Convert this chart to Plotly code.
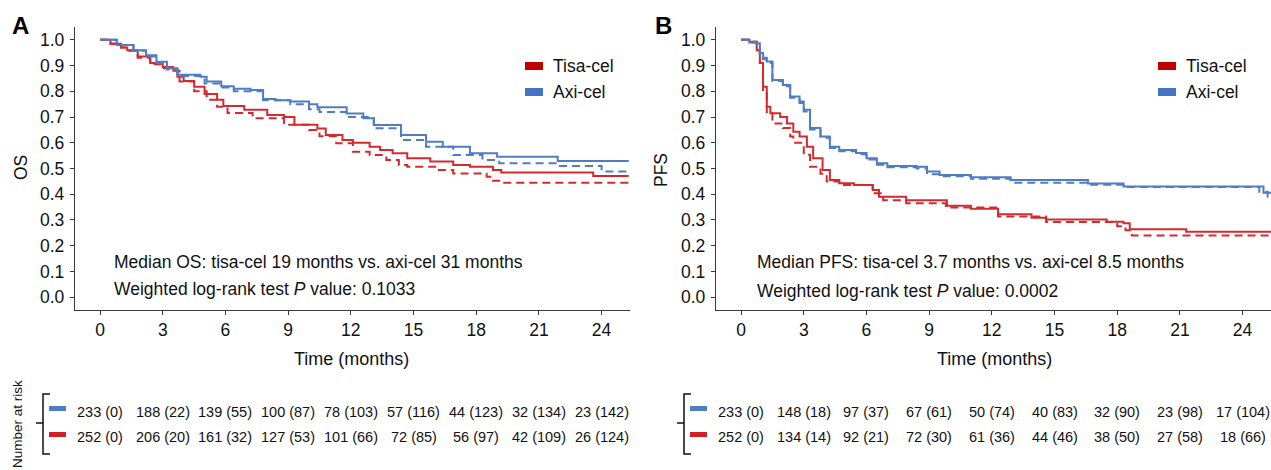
import plotly.graph_objects as go

W, H = 1271, 470
FONT = "Liberation Sans, Arial, Helvetica, sans-serif"
RED = "#D42A2F"
BLUE = "#4F7DC2"
RED_LEG = "#C00000"
BLUE_LEG = "#4472C4"

# ---------------- Panel A (OS) ----------------
os_tisa_t = [0, 0.5, 1.0, 1.3, 1.8, 2.4, 3.0, 3.5, 3.7, 4.0, 4.5, 5.0, 5.6, 5.9, 6.9, 8.0, 8.8, 9.3,
             10.4, 10.8, 11.6, 12.1, 12.9, 13.4, 14.0, 14.7, 15.8, 16.9, 17.7, 18.8, 19.2, 23.6, 25.3]
os_tisa_s = [1.0, 0.985, 0.97, 0.96, 0.935, 0.91, 0.895, 0.885, 0.857, 0.84, 0.818, 0.79, 0.767, 0.743,
             0.728, 0.708, 0.70, 0.67, 0.655, 0.63, 0.611, 0.60, 0.585, 0.572, 0.559, 0.54, 0.527, 0.514,
             0.507, 0.494, 0.484, 0.471, 0.471]
os_tisa_dash_t = [0, 0.5, 1.0, 1.3, 1.8, 2.4, 3.0, 3.5, 3.8, 4.5, 5.1, 5.6, 6.1, 7.3, 8.8, 10.0, 10.5,
                  11.3, 12.1, 12.9, 13.7, 14.3, 14.7, 16.1, 16.9, 18.5, 18.8, 19.1, 25.3]
os_tisa_dash_s = [1.0, 0.985, 0.97, 0.958, 0.93, 0.905, 0.89, 0.88, 0.838, 0.80, 0.767, 0.74, 0.716, 0.695,
                  0.67, 0.65, 0.625, 0.598, 0.565, 0.552, 0.533, 0.514, 0.507, 0.494, 0.481, 0.468, 0.452,
                  0.445, 0.445]
os_axi_t = [0, 0.8, 1.6, 2.2, 2.7, 3.2, 3.7, 4.8, 5.1, 5.8, 6.4, 7.2, 7.8, 8.4, 9.1, 10.0, 10.4, 11.8,
            12.6, 13.1, 14.4, 15.6, 16.4, 17.7, 19.0, 21.9, 25.3]
os_axi_s = [1.0, 0.98, 0.96, 0.94, 0.915, 0.89, 0.864, 0.857, 0.838, 0.82, 0.81, 0.805, 0.77, 0.765, 0.76,
            0.75, 0.738, 0.714, 0.695, 0.669, 0.63, 0.604, 0.585, 0.559, 0.546, 0.529, 0.529]
os_axi_dash_t = [0, 0.8, 1.6, 2.2, 2.7, 3.2, 3.7, 5.0, 5.8, 6.4, 7.8, 9.1, 10.0, 10.5, 11.8, 13.1, 14.4,
                 15.6, 16.9, 18.3, 19.1, 21.9, 24.0, 25.3]
os_axi_dash_s = [1.0, 0.98, 0.958, 0.935, 0.91, 0.885, 0.86, 0.83, 0.815, 0.80, 0.765, 0.75, 0.73, 0.72,
                 0.70, 0.656, 0.611, 0.585, 0.552, 0.533, 0.52, 0.51, 0.488, 0.488]

# ---------------- Panel B (PFS) ----------------
pfs_axi_t = [0, 0.4, 0.75, 0.9, 1.05, 1.23, 1.5, 2.0, 2.35, 2.8, 3.0, 3.3, 3.8, 4.25, 4.7, 5.5, 6.0, 6.5,
             7.0, 8.4, 8.9, 9.5, 11.0, 12.9, 16.6, 18.3, 25.0, 25.4]
pfs_axi_s = [1.0, 0.99, 0.987, 0.949, 0.93, 0.916, 0.844, 0.825, 0.78, 0.76, 0.728, 0.657, 0.624, 0.585,
             0.572, 0.56, 0.54, 0.52, 0.51, 0.507, 0.488, 0.475, 0.466, 0.455, 0.442, 0.43, 0.406, 0.406]
pfs_axi_dash_t = [0, 0.4, 0.75, 0.9, 1.05, 1.23, 1.5, 2.0, 2.35, 2.8, 3.0, 3.3, 3.8, 4.25, 4.7, 5.5, 6.0,
                  6.5, 7.0, 8.4, 8.9, 9.5, 11.0, 12.9, 16.6, 18.3, 24.8, 25.2, 25.4]
pfs_axi_dash_s = [1.0, 0.99, 0.985, 0.945, 0.925, 0.91, 0.84, 0.82, 0.775, 0.755, 0.722, 0.652, 0.62, 0.58,
                  0.567, 0.555, 0.535, 0.515, 0.505, 0.50, 0.478, 0.47, 0.46, 0.445, 0.437, 0.428, 0.41,
                  0.39, 0.39]
pfs_tisa_t = [0, 0.4, 0.75, 0.9, 1.05, 1.23, 1.4, 1.87, 2.2, 2.5, 2.8, 3.15, 3.45, 3.9, 4.25, 4.7, 5.4, 6.3,
              6.6, 7.9, 9.85, 11.0, 12.3, 13.9, 14.6, 17.5, 18.3, 18.6, 21.3, 25.4]
pfs_tisa_s = [1.0, 0.993, 0.96, 0.91, 0.818, 0.74, 0.715, 0.70, 0.675, 0.643, 0.624, 0.585, 0.54, 0.494,
              0.455, 0.443, 0.436, 0.416, 0.39, 0.377, 0.355, 0.344, 0.322, 0.309, 0.302, 0.293, 0.287,
              0.264, 0.254, 0.254]
pfs_tisa_dash_t = [0, 0.4, 0.75, 0.9, 1.05, 1.23, 1.5, 2.0, 2.35, 2.5, 3.0, 3.3, 3.8, 4.1, 4.7, 6.3, 6.8,
                   7.9, 9.8, 12.3, 14.6, 18.0, 18.4, 18.7, 25.4]
pfs_tisa_dash_s = [1.0, 0.993, 0.96, 0.91, 0.80, 0.715, 0.675, 0.657, 0.624, 0.60, 0.553, 0.507, 0.48,
                   0.449, 0.436, 0.404, 0.377, 0.365, 0.348, 0.313, 0.292, 0.276, 0.26, 0.24, 0.24]

# ---------------- Risk tables ----------------
risk_times = [0, 3, 6, 9, 12, 15, 18, 21, 24]
os_risk_axi = ["233 (0)", "188 (22)", "139 (55)", "100 (87)", "78 (103)", "57 (116)", "44 (123)", "32 (134)", "23 (142)"]
os_risk_tisa = ["252 (0)", "206 (20)", "161 (32)", "127 (53)", "101 (66)", "72 (85)", "56 (97)", "42 (109)", "26 (124)"]
pfs_risk_axi = ["233 (0)", "148 (18)", "97 (37)", "67 (61)", "50 (74)", "40 (83)", "32 (90)", "23 (98)", "17 (104)"]
pfs_risk_tisa = ["252 (0)", "134 (14)", "92 (21)", "72 (30)", "61 (36)", "44 (46)", "38 (50)", "27 (58)", "18 (66)"]

x_ticks = [0, 3, 6, 9, 12, 15, 18, 21, 24]
y_ticks = [0.0, 0.1, 0.2, 0.3, 0.4, 0.5, 0.6, 0.7, 0.8, 0.9, 1.0]


def px_x(p):
    return p / W


def px_y(p):
    return 1 - p / H


fig = go.Figure()

curves = [
    ("x", "y", os_tisa_t, os_tisa_s, RED, "solid"),
    ("x", "y", os_tisa_dash_t, os_tisa_dash_s, RED, "dash"),
    ("x", "y", os_axi_t, os_axi_s, BLUE, "solid"),
    ("x", "y", os_axi_dash_t, os_axi_dash_s, BLUE, "dash"),
    ("x2", "y2", pfs_tisa_t, pfs_tisa_s, RED, "solid"),
    ("x2", "y2", pfs_tisa_dash_t, pfs_tisa_dash_s, RED, "dash"),
    ("x2", "y2", pfs_axi_t, pfs_axi_s, BLUE, "solid"),
    ("x2", "y2", pfs_axi_dash_t, pfs_axi_dash_s, BLUE, "dash"),
]
for xa, ya, t, s, c, d in curves:
    fig.add_trace(go.Scatter(
        x=t, y=s, xaxis=xa, yaxis=ya, mode="lines",
        line=dict(color=c, width=2, shape="hv", dash="8px,5px" if d == "dash" else "solid"),
        showlegend=False, hoverinfo="skip"))

ydom = [px_y(310), px_y(27)]
axis_common = dict(showgrid=False, zeroline=False, showline=True, linecolor="#3a3a3a", linewidth=1.3,
                   ticks="outside", ticklen=4, tickcolor="#3a3a3a", tickwidth=1,
                   tickfont=dict(family=FONT, size=17.5, color="#111"))
fig.update_layout(
    width=W, height=H, margin=dict(l=0, r=0, t=0, b=0),
    paper_bgcolor="white", plot_bgcolor="white", showlegend=False,
    xaxis=dict(domain=[px_x(75), px_x(630)], range=[-1.2, 25.36], tickvals=x_ticks,
               anchor="y", ticklabelstandoff=0, **axis_common),
    yaxis=dict(domain=ydom, range=[-0.05, 1.05], tickvals=y_ticks, tickformat=".1f",
               anchor="x", ticklabelstandoff=2, **axis_common),
    xaxis2=dict(domain=[px_x(716), 1.0], range=[-1.2, 25.36], tickvals=x_ticks,
                anchor="y2", ticklabelstandoff=0, **axis_common),
    yaxis2=dict(domain=ydom, range=[-0.05, 1.05], tickvals=y_ticks, tickformat=".1f",
                anchor="x2", ticklabelstandoff=2, **axis_common),
)

ann = []
shapes = []


def text(x, y, s, size=17.5, xanchor="center", yanchor="middle", xref="paper", yref="paper",
         angle=0, bold=False, color="#111"):
    ann.append(dict(x=x, y=y, xref=xref, yref=yref, text=("<b>%s</b>" % s) if bold else s,
                    showarrow=False, xanchor=xanchor, yanchor=yanchor, textangle=angle,
                    font=dict(family=FONT, size=size, color=color)))


# panel letters
text(px_x(20), px_y(25), "A", size=24, bold=True, color="#000")
text(px_x(663), px_y(25), "B", size=24, bold=True, color="#000")
# y titles
text(px_x(21), px_y(168), "OS", size=17.5, angle=-90)
text(px_x(661), px_y(170), "PFS", size=17.5, angle=-90)
# x titles
text(px_x(351), px_y(359), "Time (months)", size=18)
text(px_x(994), px_y(359), "Time (months)", size=18)
# stats text
text(px_x(112), px_y(262), "Median OS: tisa-cel 19 months vs. axi-cel 31 months", xanchor="left")
text(px_x(112), px_y(289), "Weighted log-rank test <i>P</i> value: 0.1033", xanchor="left")
text(px_x(755), px_y(262), "Median PFS: tisa-cel 3.7 months vs. axi-cel 8.5 months", xanchor="left")
text(px_x(755), px_y(291), "Weighted log-rank test <i>P</i> value: 0.0002", xanchor="left")

# legends
for x0, tx in [(525, 551), (1158, 1184)]:
    shapes.append(dict(type="rect", xref="paper", yref="paper", x0=px_x(x0), x1=px_x(x0 + 18),
                       y0=px_y(70), y1=px_y(62), fillcolor=RED_LEG, line=dict(width=0)))
    shapes.append(dict(type="rect", xref="paper", yref="paper", x0=px_x(x0), x1=px_x(x0 + 18),
                       y0=px_y(96), y1=px_y(88), fillcolor=BLUE_LEG, line=dict(width=0)))
    text(px_x(tx), px_y(66), "Tisa-cel", xanchor="left")
    text(px_x(tx), px_y(92), "Axi-cel", xanchor="left")

# risk tables
text(px_x(17), px_y(424), "Number at risk", size=13.5, angle=-90)
for xref, axi, tisa, bx in [("x", os_risk_axi, os_risk_tisa, 43), ("x2", pfs_risk_axi, pfs_risk_tisa, 684)]:
    for t, a, b in zip(risk_times, axi, tisa):
        text(t, px_y(412), a, size=14.5, xref=xref)
        text(t, px_y(437), b, size=14.5, xref=xref)
    # bracket
    path = "M %f %f L %f %f L %f %f L %f %f" % (px_x(bx + 7), px_y(394), px_x(bx), px_y(394),
                                                px_x(bx), px_y(454), px_x(bx + 7), px_y(454))
    shapes.append(dict(type="path", xref="paper", yref="paper", path=path,
                       line=dict(color="#111", width=1.5)))
    shapes.append(dict(type="line", xref="paper", yref="paper", x0=px_x(bx - 7), x1=px_x(bx),
                       y0=px_y(423), y1=px_y(423), line=dict(color="#111", width=1.5)))
    shapes.append(dict(type="rect", xref="paper", yref="paper", x0=px_x(bx + 6), x1=px_x(bx + 23),
                       y0=px_y(411), y1=px_y(406), fillcolor=BLUE, line=dict(width=0)))
    shapes.append(dict(type="rect", xref="paper", yref="paper", x0=px_x(bx + 6), x1=px_x(bx + 23),
                       y0=px_y(437), y1=px_y(432), fillcolor="#D02028", line=dict(width=0)))

fig.update_layout(annotations=ann, shapes=shapes)
fig.write_html("out.html", config={"displayModeBar": False},
               post_script="document.body.style.margin='0px';document.body.style.overflow='hidden';")
